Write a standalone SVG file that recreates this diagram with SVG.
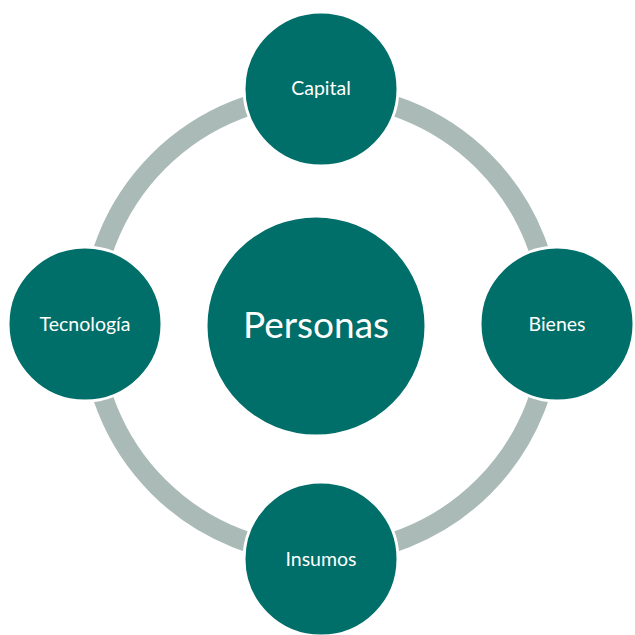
<svg xmlns="http://www.w3.org/2000/svg" width="635" height="635" viewBox="0 0 635 635">
<style>
.node{fill:#006E69;stroke:#ffffff;stroke-width:3}
.lbl{fill:#ffffff;font-family:Lato,"Open Sans","Liberation Sans",sans-serif;text-anchor:middle;font-size:19.5px}
.big{font-size:37px}
.ring{fill:none;stroke:#A9BAB7;stroke-width:20}
</style>
<rect width="635" height="635" fill="#ffffff"/>
<g id="connectors">
<circle class="ring" cx="321" cy="324" r="230"/>
</g>
<g id="personas">
<circle class="node" cx="316" cy="326" r="110"/>
<text class="lbl big" x="316" y="338">Personas</text>
</g>
<g id="capital">
<circle class="node" cx="321" cy="89" r="77"/>
<text class="lbl" x="321" y="95">Capital</text>
</g>
<g id="bienes">
<circle class="node" cx="557" cy="324" r="77"/>
<text class="lbl" x="557" y="331">Bienes</text>
</g>
<g id="insumos">
<circle class="node" cx="321" cy="559" r="77"/>
<text class="lbl" x="321" y="566">Insumos</text>
</g>
<g id="tecnologia">
<circle class="node" cx="85" cy="324" r="77"/>
<text class="lbl" x="85" y="331">Tecnología</text>
</g>
</svg>
